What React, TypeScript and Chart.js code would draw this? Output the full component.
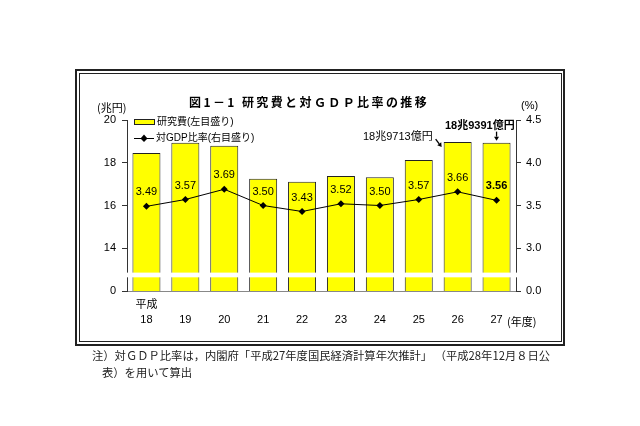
import React, { useEffect, useRef } from "react";
import { Chart, registerables } from "chart.js";

Chart.register(...registerables);

// ---- data ----
const fiscalYears = ["18", "19", "20", "21", "22", "23", "24", "25", "26", "27"];
const eraLabel = "平成";
const researchCost = [18.46, 18.94, 18.8, 17.25, 17.11, 17.38, 17.32, 18.13, 18.97, 18.94]; // 兆円
const gdpRatio = [3.49, 3.57, 3.69, 3.5, 3.43, 3.52, 3.5, 3.57, 3.66, 3.56]; // %
const leftAxisBase = 12; // shown as "0" (broken axis)
const leftAxisMax = 20;
const rightAxisBase = 2.5; // shown as "0.0" (broken axis)
const rightAxisMax = 4.5;
const legendBar = "研究費(左目盛り)";
const legendLine = "対GDP比率(右目盛り)";

const FONT = "'Liberation Sans', 'Noto Sans CJK JP', sans-serif";
const JP = "'Noto Sans CJK JP', 'Liberation Sans', sans-serif";

function arrow(ctx: CanvasRenderingContext2D, x1: number, y1: number, x2: number, y2: number) {
  const ang = Math.atan2(y2 - y1, x2 - x1);
  const h = 4;
  ctx.beginPath();
  ctx.moveTo(x1, y1);
  ctx.lineTo(x2 - Math.cos(ang) * h, y2 - Math.sin(ang) * h);
  ctx.stroke();
  ctx.beginPath();
  ctx.moveTo(x2, y2);
  ctx.lineTo(x2 - h * Math.cos(ang) + 2.5 * Math.sin(ang), y2 - h * Math.sin(ang) - 2.5 * Math.cos(ang));
  ctx.lineTo(x2 - h * Math.cos(ang) - 2.5 * Math.sin(ang), y2 - h * Math.sin(ang) + 2.5 * Math.cos(ang));
  ctx.closePath();
  ctx.fill();
}

const overlayPlugin = {
  id: "overlay",
  afterDatasetsDraw(chart: any) {
    const ctx = chart.ctx as CanvasRenderingContext2D;
    const meta = chart.getDatasetMeta(1);
    ctx.save();
    ctx.fillStyle = "#000";
    ctx.textAlign = "center";
    ctx.textBaseline = "middle";
    meta.data.forEach((pt: any, i: number) => {
      const bold = i === gdpRatio.length - 1;
      ctx.font = `${bold ? "bold " : ""}11px ${FONT}`;
      ctx.fillText(gdpRatio[i].toFixed(2), pt.x, pt.y - 14);
    });
    ctx.restore();
  },
  afterDraw(chart: any) {
    const ctx = chart.ctx as CanvasRenderingContext2D;
    const { chartArea, scales } = chart;
    ctx.save();
    // axis break strip
    const yTop = scales.y.getPixelForValue(12.86);
    const yBot = scales.y.getPixelForValue(12.64);
    ctx.fillStyle = "#fff";
    ctx.fillRect(chartArea.left - 5, yTop, chartArea.right - chartArea.left + 7, yBot - yTop);

    // legend
    const lx = chartArea.left + 7;
    const ly1 = chartArea.top + 2;
    ctx.fillStyle = "#ffff00";
    ctx.strokeStyle = "#222";
    ctx.lineWidth = 1;
    ctx.fillRect(lx, ly1 - 2, 20, 4);
    ctx.strokeRect(lx + 0.5, ly1 - 2.5, 20, 5);
    ctx.fillStyle = "#000";
    ctx.font = `10px ${FONT}`;
    ctx.textAlign = "left";
    ctx.textBaseline = "middle";
    ctx.fillText(legendBar, lx + 23, ly1);
    const ly2 = chartArea.top + 18;
    ctx.strokeStyle = "#000";
    ctx.beginPath();
    ctx.moveTo(lx, ly2 + 0.5);
    ctx.lineTo(lx + 20, ly2 + 0.5);
    ctx.stroke();
    ctx.beginPath();
    ctx.moveTo(lx + 10, ly2 - 3.5);
    ctx.lineTo(lx + 13.5, ly2 + 0.5);
    ctx.lineTo(lx + 10, ly2 + 4);
    ctx.lineTo(lx + 6.5, ly2 + 0.5);
    ctx.closePath();
    ctx.fill();
    ctx.fillText(legendLine, lx + 22, ly2);

    // arrows to the last two bars
    const bars = chart.getDatasetMeta(0).data;
    const b26 = bars[8];
    const b27 = bars[9];
    ctx.fillStyle = "#000";
    ctx.strokeStyle = "#000";
    ctx.lineWidth = 1.3;
    const l26 = b26.x - b26.width / 2;
    arrow(ctx, l26 - 8, b26.y - 3, l26 - 2, b26.y + 5);
    arrow(ctx, b27.x, b27.y - 11, b27.x, b27.y - 2);
    ctx.restore();
  },
};

export default function App() {
  const ref = useRef<HTMLCanvasElement>(null);

  useEffect(() => {
    if (!ref.current) return;
    const labels = fiscalYears.map((y, i) => (i === 0 ? [eraLabel, y] : ["", y]));
    const chart = new Chart(ref.current, {
      type: "bar",
      data: {
        labels,
        datasets: [
          {
            type: "bar",
            data: researchCost,
            yAxisID: "y",
            backgroundColor: "#ffff00",
            borderColor: "#222",
            borderWidth: 1,
            barPercentage: 0.72,
            categoryPercentage: 1,
            order: 1,
          },
          {
            type: "line",
            data: gdpRatio,
            yAxisID: "y1",
            borderColor: "#000",
            borderWidth: 1,
            backgroundColor: "#000",
            pointStyle: "rectRot",
            pointRadius: 3.5,
            pointBorderWidth: 0,
            pointBackgroundColor: "#000",
            tension: 0,
            order: 0,
          },
        ],
      } as any,
      options: {
        responsive: false,
        devicePixelRatio: 1,
        animation: false,
        layout: { padding: { left: 87, right: 84, top: 120, bottom: 95 } },
        plugins: { legend: { display: false }, tooltip: { enabled: false } },
        scales: {
          x: {
            grid: { display: false, drawTicks: false, tickLength: 0 },
            border: { display: true, color: "#888", width: 1 },
            ticks: {
              color: "#000",
              font: { family: FONT, size: 11, lineHeight: 1.35 },
              padding: 7,
              maxRotation: 0,
              autoSkip: false,
            },
            afterFit: (s: any) => {
              s.height = 40;
            },
          },
          y: {
            position: "left",
            min: leftAxisBase,
            max: leftAxisMax,
            grid: { drawOnChartArea: false, drawTicks: true, tickLength: 5, color: "#333" },
            border: { display: true, color: "#333", width: 1 },
            ticks: {
              stepSize: 2,
              color: "#000",
              font: { family: FONT, size: 11 },
              padding: 6,
              callback: (v: any) => (Number(v) === leftAxisBase ? "0" : String(v)),
            },
            afterFit: (s: any) => {
              s.width = 40;
            },
          },
          y1: {
            position: "right",
            min: rightAxisBase,
            max: rightAxisMax,
            grid: { drawOnChartArea: false, drawTicks: true, tickLength: 5, color: "#333" },
            border: { display: true, color: "#333", width: 1 },
            ticks: {
              stepSize: 0.5,
              color: "#000",
              font: { family: FONT, size: 11 },
              padding: 5,
              callback: (v: any) => (Number(v) === rightAxisBase ? "0.0" : Number(v).toFixed(1)),
            },
            afterFit: (s: any) => {
              s.width = 40;
            },
          },
        },
      } as any,
      plugins: [overlayPlugin],
    });
    return () => chart.destroy();
  }, []);

  const abs = (left: number, top: number, extra: React.CSSProperties = {}): React.CSSProperties => ({
    position: "absolute",
    left,
    top,
    whiteSpace: "nowrap",
    color: "#000",
    ...extra,
  });

  return (
    <div style={{ position: "fixed", left: 0, top: 0, width: 640, height: 426, background: "#fff", overflow: "hidden" }}>
      <canvas ref={ref} width={640} height={426} style={{ position: "absolute", left: 0, top: 0, width: 640, height: 426 }} />
      {/* double frame */}
      <div style={{ position: "absolute", left: 75, top: 69, width: 490, height: 277, border: "2px solid #222", boxSizing: "border-box", pointerEvents: "none" }} />
      <div style={{ position: "absolute", left: 79, top: 73, width: 483, height: 269, border: "1px solid #222", boxSizing: "border-box", pointerEvents: "none" }} />
      {/* title */}
      <div style={abs(189, 94, { fontFamily: JP, fontSize: 12, lineHeight: "16px", fontWeight: 700, letterSpacing: "2.4px" })}>
        図1－1 研究費と対ＧＤＰ比率の推移
      </div>
      <div style={abs(97, 99, { fontFamily: JP, fontSize: 11, lineHeight: "16px" })}>(兆円)</div>
      <div style={abs(521, 97, { fontFamily: FONT, fontSize: 11, lineHeight: "16px" })}>(%)</div>
      <div style={abs(507, 313, { fontFamily: JP, fontSize: 11, lineHeight: "16px" })}>(年度)</div>
      <div style={abs(363, 128, { fontFamily: FONT, fontSize: 11, lineHeight: "16px" })}>18兆9713億円</div>
      <div style={abs(445, 117, { fontFamily: FONT, fontSize: 11, lineHeight: "16px", fontWeight: 700 })}>18兆9391億円</div>
      {/* footnote */}
      <div style={abs(92, 347, { fontFamily: JP, fontSize: 11.3, lineHeight: "16px", color: "#222" })}>
        注）対ＧＤＰ比率は，内閣府「平成27年度国民経済計算年次推計」 （平成28年12月８日公
      </div>
      <div style={abs(102, 364, { fontFamily: JP, fontSize: 11.3, lineHeight: "16px", color: "#222" })}>
        表）を用いて算出
      </div>
    </div>
  );
}
